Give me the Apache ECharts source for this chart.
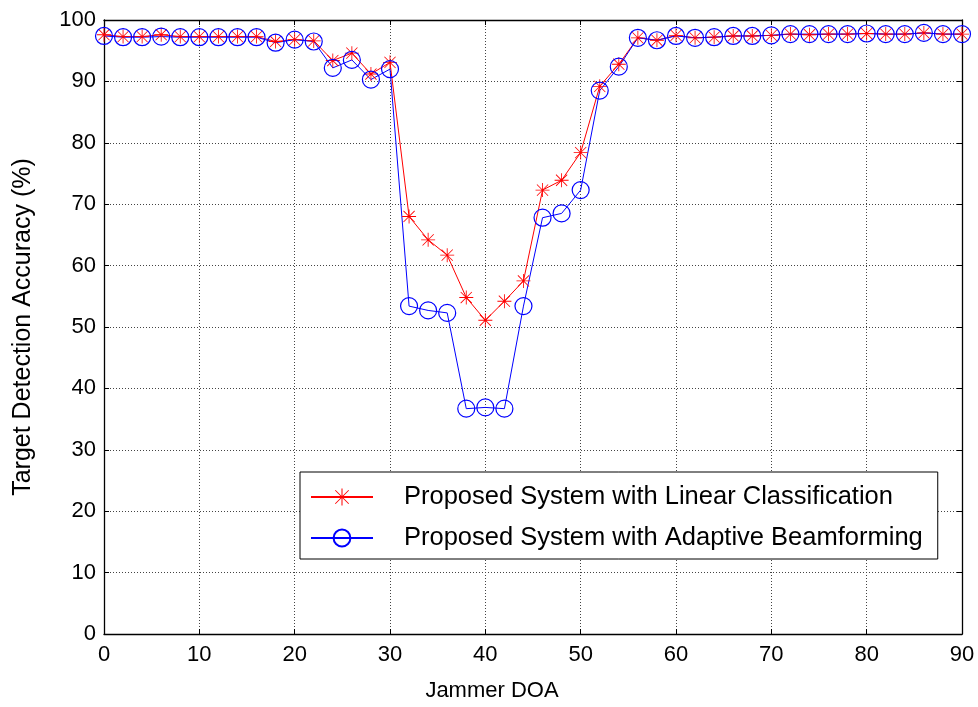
<!DOCTYPE html>
<html>
<head>
<meta charset="utf-8">
<script src="https://cdn.jsdelivr.net/npm/echarts@6/dist/echarts.min.js"></script>
<style>
html,body{margin:0;padding:0;background:#fff;}
#chart{width:978px;height:707px;}
</style>
</head>
<body>
<div id="chart"></div>
<script>
// ---- data ----
const doa = [0,2,4,6,8,10,12,14,16,18,20,22,24,26,28,30,32,34,36,38,40,42,44,46,48,50,52,54,56,58,60,62,64,66,68,70,72,74,76,78,80,82,84,86,88,90];
const linearAcc = [97.6,97.3,97.3,97.6,97.3,97.3,97.3,97.3,97.3,96.5,96.8,96.6,93.4,94.6,91.2,93.1,68.0,64.2,61.7,54.8,51.1,54.2,57.5,72.3,73.9,78.4,89.2,92.8,97.1,96.7,97.5,97.1,97.2,97.4,97.4,97.5,97.7,97.6,97.7,97.7,97.8,97.7,97.7,97.9,97.7,97.7];
const adaptiveAcc = [97.4,97.2,97.2,97.3,97.2,97.2,97.2,97.2,97.2,96.3,96.8,96.5,92.2,93.5,90.3,92.0,53.4,52.7,52.3,36.7,36.9,36.7,53.4,67.8,68.5,72.3,88.5,92.4,97.1,96.7,97.4,97.1,97.2,97.4,97.4,97.5,97.7,97.7,97.7,97.7,97.8,97.7,97.7,97.9,97.7,97.7];
const seriesNames = ['Proposed System with Linear Classification','Proposed System with Adaptive Beamforming'];
const xTitle = 'Jammer DOA';
const yTitle = 'Target Detection Accuracy (%)';

const FONT = 'Liberation Sans, Arial, sans-serif';
const starPath = 'path://M0,9.4L20,9.4L20,10.6L0,10.6Z M9.4,0L10.6,0L10.6,20L9.4,20Z M2.4,1.6L18.4,17.6L17.6,18.4L1.6,2.4Z M17.6,1.6L18.4,2.4L2.4,18.4L1.6,17.6Z';

const chart = echarts.init(document.getElementById('chart'), null, {renderer:'canvas'});
const gridLine = {show:true, lineStyle:{color:'#444', type:[1,2], width:1}};
const axisLineStyle = {lineStyle:{color:'#000', width:1.3}};
chart.setOption({
  backgroundColor:'#fff',
  animation:false,
  grid:{left:104, right:16, top:20, bottom:71},
  xAxis:[{
    type:'value', min:0, max:90, interval:10, position:'bottom',
    name:xTitle, nameLocation:'middle', nameGap:46,
    nameTextStyle:{fontFamily:FONT, fontSize:22, color:'#000', padding:[0,82,0,0]},
    axisLine:Object.assign({show:true, onZero:false}, axisLineStyle),
    axisTick:{show:true, inside:true, length:5, lineStyle:{color:'#000'}},
    axisLabel:{fontFamily:FONT, fontSize:22, color:'#000', margin:10},
    splitLine:gridLine
  },{
    type:'value', min:0, max:90, interval:10, position:'top',
    axisLine:Object.assign({show:true, onZero:false}, axisLineStyle),
    axisTick:{show:true, inside:true, length:5, lineStyle:{color:'#000'}},
    axisLabel:{show:false}, splitLine:{show:false}
  }],
  yAxis:[{
    type:'value', min:0, max:100, interval:10, position:'left',
    name:yTitle, nameLocation:'middle', nameGap:68, nameRotate:90,
    nameTextStyle:{fontFamily:FONT, fontSize:25, color:'#000'},
    axisLine:Object.assign({show:true, onZero:false}, axisLineStyle),
    axisTick:{show:true, inside:true, length:5, lineStyle:{color:'#000'}},
    axisLabel:{fontFamily:FONT, fontSize:22, color:'#000', margin:8},
    splitLine:gridLine
  },{
    type:'value', min:0, max:100, interval:10, position:'right',
    axisLine:Object.assign({show:true, onZero:false}, axisLineStyle),
    axisTick:{show:true, inside:true, length:5, lineStyle:{color:'#000'}},
    axisLabel:{show:false}, splitLine:{show:false}
  }],
  legend:{
    orient:'vertical', left:300, top:472,
    backgroundColor:'#fff', borderColor:'#000', borderWidth:1,
    padding:[12,15,8,10],
    itemWidth:62, itemHeight:21, itemGap:15,
    textStyle:{fontFamily:FONT, fontSize:25.5, lineHeight:25, color:'#000', padding:[0,0,0,26]},
    data:seriesNames
  },
  series:[{
    name:seriesNames[0], type:'line', xAxisIndex:0, yAxisIndex:0,
    data:doa.map((x,i)=>[x, linearAcc[i]]),
    symbol:starPath, symbolSize:14, clip:false,
    itemStyle:{color:'#ff0000'},
    lineStyle:{color:'#ff0000', width:1}
  },{
    name:seriesNames[1], type:'line', xAxisIndex:0, yAxisIndex:0,
    data:doa.map((x,i)=>[x, adaptiveAcc[i]]),
    symbol:'circle', symbolSize:17, clip:false,
    itemStyle:{color:'rgba(0,0,0,0)', borderColor:'#0000ff', borderWidth:1.2},
    lineStyle:{color:'#0000ff', width:1}
  }]
});
</script>
</body>
</html>
